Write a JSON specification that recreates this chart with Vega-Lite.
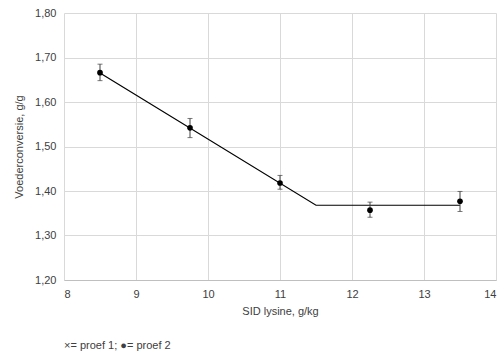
{
  "$schema": "https://vega.github.io/schema/vega-lite/v6.json",
  "width": 432,
  "height": 267,
  "autosize": {"type": "none"},
  "padding": {"left": 64, "top": 13, "right": 6, "bottom": 74},
  "background": "white",
  "config": {
    "view": {"stroke": null},
    "font": "Liberation Sans",
    "axis": {"labelFont": "Liberation Sans", "titleFont": "Liberation Sans", "labelFontSize": 11, "titleFontSize": 11, "labelColor": "#404040", "titleColor": "#404040", "titleFontWeight": "normal", "gridColor": "#d9d9d9", "ticks": false, "labelOverlap": false}
  },
  "title": {"text": "×= proef 1; ●= proef 2", "orient": "bottom", "anchor": "start", "frame": "group", "offset": 24, "fontSize": 11, "fontWeight": "normal", "color": "#404040", "font": "Liberation Sans"},
  "datasets": {
    "pts": [
      {"lys": 8.5, "fc": 1.666, "lo": 1.648, "hi": 1.685},
      {"lys": 9.75, "fc": 1.542, "lo": 1.520, "hi": 1.563},
      {"lys": 11.0, "fc": 1.418, "lo": 1.404, "hi": 1.435},
      {"lys": 12.25, "fc": 1.357, "lo": 1.341, "hi": 1.375},
      {"lys": 13.5, "fc": 1.377, "lo": 1.354, "hi": 1.399}
    ],
    "fit": [
      {"lys": 8.5, "fc": 1.665},
      {"lys": 11.5, "fc": 1.368},
      {"lys": 13.5, "fc": 1.368}
    ]
  },
  "encoding": {
    "x": {"field": "lys", "type": "quantitative", "scale": {"domain": [8, 14], "nice": false}, "axis": {"title": "SID lysine, g/kg", "values": [8,9,10,11,12,13,14], "domain": true, "domainColor": "#bfbfbf", "labelPadding": 8, "titlePadding": 6, "format": "d"}}
  },
  "layer": [
    {
      "data": {"name": "fit"},
      "mark": {"type": "line", "color": "black", "strokeWidth": 1.2},
      "encoding": {
        "y": {"field": "fc", "type": "quantitative", "scale": {"domain": [1.2, 1.8], "nice": false, "zero": false}, "axis": {"title": "Voederconversie, g/g", "values": [1.2,1.3,1.4,1.5,1.6,1.7,1.8], "labelExpr": "replace(format(datum.value, '.2f'), '.', ',')", "domain": false, "labelPadding": 8, "titlePadding": 10}}
      }
    },
    {
      "data": {"name": "pts"},
      "mark": {"type": "rule", "color": "#404040", "strokeWidth": 1},
      "encoding": {
        "y": {"field": "lo", "type": "quantitative"},
        "y2": {"field": "hi"}
      }
    },
    {
      "data": {"name": "pts"},
      "mark": {"type": "tick", "orient": "horizontal", "color": "#404040", "size": 5, "thickness": 1},
      "encoding": {
        "y": {"field": "lo", "type": "quantitative"}
      }
    },
    {
      "data": {"name": "pts"},
      "mark": {"type": "tick", "orient": "horizontal", "color": "#404040", "size": 5, "thickness": 1},
      "encoding": {
        "y": {"field": "hi", "type": "quantitative"}
      }
    },
    {
      "data": {"name": "pts"},
      "mark": {"type": "point", "filled": true, "color": "black", "size": 32, "opacity": 1},
      "encoding": {
        "y": {"field": "fc", "type": "quantitative"}
      }
    }
  ]
}
